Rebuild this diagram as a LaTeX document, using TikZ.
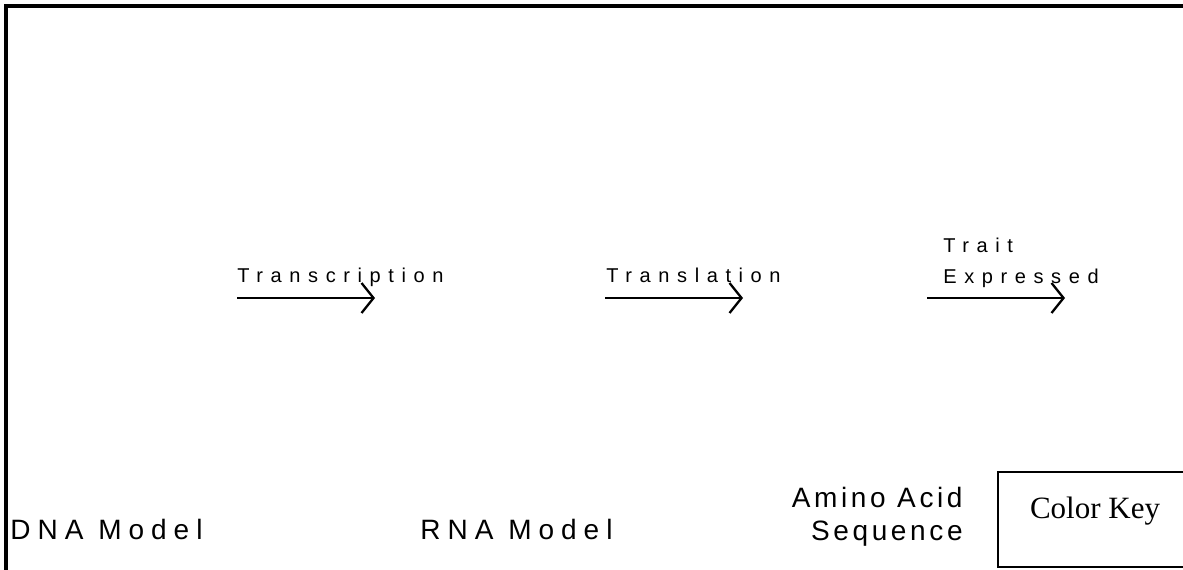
\documentclass[tikz,border=0pt]{standalone}
\usepackage{fontspec}
\setmainfont{Liberation Serif}
\newfontfamily\arialfont{Liberation Sans}
\usetikzlibrary{arrows.meta}
\begin{document}
\begin{tikzpicture}[x=0.5pt,y=-0.5pt]
\tikzstyle{proclabel} = [anchor=base west, inner sep=0pt,
   font=\arialfont\fontsize{10}{15.5}\selectfont\addfontfeature{LetterSpace=38}]
\tikzstyle{modellabel} = [anchor=base west, inner sep=0pt,
   font=\arialfont\fontsize{14}{17}\selectfont\addfontfeature{LetterSpace=25}]
\tikzstyle{procarrow} = [line width=1.15pt, -{Straight Barb[length=6pt,width=15pt,line width=1.15pt]}]
\useasboundingbox (0,0) rectangle (1183,569);
% outer frame
\draw[line width=1.6pt] (6,580) -- (6,6) -- (1195,6);
% process steps
\node[proclabel] (transcription) at (237,282) {Transcription};
\coordinate (tcstart) at (237,298);
\coordinate (tcend) at (375,298);
\draw[procarrow] (tcstart) -- (tcend);
\node[proclabel] (translation) at (606,282) {Translation};
\coordinate (tlstart) at (605,298);
\coordinate (tlend) at (743,298);
\draw[procarrow] (tlstart) -- (tlend);
\node[proclabel, align=left] (trait) at (943,283) {Trait\\Expressed};
\coordinate (trstart) at (927,298);
\coordinate (trend) at (1065,298);
\draw[procarrow] (trstart) -- (trend);
% models
\node[modellabel] (dna) at (10,539) {DNA Model};
\node[modellabel] (rna) at (420,539) {RNA Model};
\node[modellabel, anchor=base east, align=right,
   font=\arialfont\fontsize{14}{16.5}\selectfont\addfontfeature{LetterSpace=13}]
   (amino) at (963,540) {Amino Acid\\Sequence};
% key
\draw[line width=1.1pt] (1195,472) -- (998,472) -- (998,567) -- (1195,567);
\node[anchor=base, inner sep=0pt, font=\fontsize{15.5}{18}\selectfont] (colorkey) at (1095,518) {Color Key};
\end{tikzpicture}
\end{document}
